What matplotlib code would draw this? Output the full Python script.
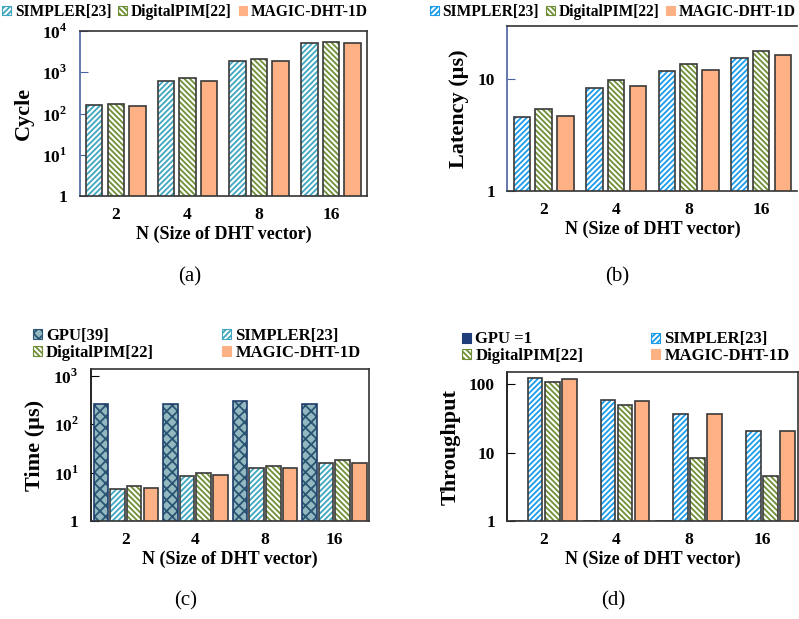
import numpy as np
import matplotlib.pyplot as plt
from matplotlib.patches import Patch

plt.rcParams['font.family'] = ['Liberation Serif', 'DejaVu Serif']
plt.rcParams['font.weight'] = 'bold'
plt.rcParams['mathtext.fontset'] = 'custom'
plt.rcParams['mathtext.rm'] = 'Liberation Serif:bold'
plt.rcParams['mathtext.bf'] = 'Liberation Serif:bold'
plt.rcParams['hatch.linewidth'] = 1.3

n_labels = ['2', '4', '8', '16']

# (a) cycles
cyc_simpler = [162, 615, 1860, 5040]
cyc_dpim = [174, 710, 2040, 5400]
cyc_magic = [152, 624, 1860, 5040]

# (b) latency (us)
lat_simpler = [4.6, 8.3, 11.8, 15.6]
lat_dpim = [5.4, 9.8, 13.6, 18.0]
lat_magic = [4.75, 8.7, 12.1, 16.5]

# (c) time (us)
t_gpu = [261, 261, 298, 261]
t_simpler = [4.6, 8.5, 12.3, 16.2]
t_dpim = [5.45, 9.8, 13.8, 18.1]
t_magic = [4.9, 8.9, 12.3, 16.2]

# (d) throughput normalised to GPU
thr_gpu = [1, 1, 1, 1]
thr_simpler = [124, 59, 36.7, 20.9]
thr_dpim = [106, 50.3, 8.3, 4.6]
thr_magic = [118, 57, 36.7, 20.9]

names3 = ['SIMPLER[23]', 'DigitalPIM[22]', 'MAGIC-DHT-1D']
names4 = ['GPU[39]', 'SIMPLER[23]', 'DigitalPIM[22]', 'MAGIC-DHT-1D']
names4d = ['GPU =1', 'SIMPLER[23]', 'DigitalPIM[22]', 'MAGIC-DHT-1D']

EDGE = '#3a3a3a'
x = np.arange(len(n_labels))


def hbar(ax, xs, vals, w, st):
    ax.bar(xs, vals, w, color=st['face'], edgecolor=st['hcol'], hatch=st['hatch'], linewidth=0, zorder=2)
    ax.bar(xs, vals, w, fill=False, edgecolor=st.get('edge', EDGE), linewidth=1.2, zorder=3)


def style(ax, ylim, ticks, ticklabels, ylabel, spine_col='black'):
    ax.set_yscale('log')
    ax.set_ylim(*ylim)
    ax.set_yticks(ticks)
    ax.set_yticklabels(ticklabels)
    ax.minorticks_off()
    ax.set_xlim(-0.5, 3.5)
    ax.set_xticks(x)
    ax.set_xticklabels(n_labels)
    ax.tick_params(axis='y', direction='in', length=6, labelsize=12.5, color=spine_col, pad=9)
    ax.tick_params(axis='x', length=0, labelsize=12.5, pad=8)
    ax.set_xlabel('N (Size of DHT vector)', fontsize=13, fontweight='bold', labelpad=2)
    ax.set_ylabel(ylabel, fontsize=16, fontweight='bold', labelpad=6)
    for s in ax.spines.values():
        s.set_color('#333333')
        s.set_linewidth(1.2)
    ax.spines['left'].set_color(spine_col)


def handles(styles, names):
    hs = []
    for st, nm in zip(styles, names):
        hs.append(Patch(facecolor=st['face'], edgecolor=st['hcol'], hatch=st['hatch'], linewidth=0.8, label=nm))
    return hs


def leg(hs, x0, y0, ncol=1, fs=12, loc='center left'):
    fig.legend(handles=hs, loc=loc, bbox_to_anchor=(x0, y0), ncol=ncol, frameon=False,
               fontsize=fs, handlelength=0.55, handleheight=0.55, handletextpad=0.25,
               columnspacing=0.45, labelspacing=0.05, borderpad=0, borderaxespad=0)


fig = plt.figure(figsize=(7.99, 6.19), dpi=100)

simpler_a = dict(face='white', hcol='#3ea6bf', hatch='//////')
simpler_b = dict(face='white', hcol='#1a9bea', hatch='//////')
dpim = dict(face='white', hcol='#6e8f35', hatch='\\\\\\\\\\\\')
magic = dict(face='#fdb184', hcol='#fdb184', hatch=None)
gpu = dict(face='#93b8c0', hcol='#2a5573', hatch='xxx', edge='#1f3d6a')
gpu_d = dict(face='#1f3d7a', hcol='#1f3d7a', hatch=None)

# (a)
ax = fig.add_axes([0.100, 0.683, 0.359, 0.267])
for k, (vals, st) in enumerate(zip([cyc_simpler, cyc_dpim, cyc_magic], [simpler_a, dpim, magic])):
    hbar(ax, x + (k - 1) * 0.3, vals, 0.23, st)
style(ax, (1, 1e4), [1, 10, 100, 1000, 10000], ['1', r'$10^1$', r'$10^2$', r'$10^3$', r'$10^4$'], 'Cycle', '#4a62a0')
leg(handles([simpler_a, dpim, magic], names3), 0.003, 0.981, ncol=3, fs=11.2)
fig.text(0.238, 0.552, '(a)', ha='center', va='center', fontsize=15, fontweight='normal')

# (b)
ax = fig.add_axes([0.635, 0.691, 0.363, 0.267])
for k, (vals, st) in enumerate(zip([lat_simpler, lat_dpim, lat_magic], [simpler_b, dpim, magic])):
    hbar(ax, x + (k - 1) * 0.3, vals, 0.23, st)
style(ax, (1, 30), [1, 10], ['1', '10'], 'Latency (µs)', '#4a62a0')
ax.spines['right'].set_visible(False)
leg(handles([simpler_b, dpim, magic], names3), 0.996, 0.981, ncol=3, fs=11.2, loc='center right')
fig.text(0.772, 0.552, '(b)', ha='center', va='center', fontsize=15, fontweight='normal')

# (c)
ax = fig.add_axes([0.114, 0.158, 0.348, 0.246])
for k, (vals, st) in enumerate(zip([t_gpu, t_simpler, t_dpim, t_magic], [gpu, simpler_a, dpim, magic])):
    hbar(ax, x + (k - 1.5) * 0.24, vals, 0.21, st)
style(ax, (1, 1400), [1, 10, 100, 1000], ['1', r'$10^1$', r'$10^2$', r'$10^3$'], 'Time (µs)')
hc = handles([gpu, simpler_a, dpim, magic], names4)
leg([hc[0], hc[2]], 0.041, 0.444)
leg([hc[1], hc[3]], 0.278, 0.444)
fig.text(0.232, 0.029, '(c)', ha='center', va='center', fontsize=15, fontweight='normal')

# (d)
ax = fig.add_axes([0.635, 0.158, 0.364, 0.241])
for k, (vals, st) in enumerate(zip([thr_gpu, thr_simpler, thr_dpim, thr_magic], [gpu_d, simpler_b, dpim, magic])):
    hbar(ax, x + (k - 1.5) * 0.235, vals, 0.2, st)
style(ax, (1, 150), [1, 10, 100], ['1', '10', '100'], 'Throughput')
hd = handles([gpu_d, simpler_b, dpim, magic], names4d)
leg([hd[0], hd[2]], 0.578, 0.438)
leg([hd[1], hd[3]], 0.815, 0.438)
fig.text(0.768, 0.029, '(d)', ha='center', va='center', fontsize=15, fontweight='normal')

fig.savefig('out.png', dpi=100)
